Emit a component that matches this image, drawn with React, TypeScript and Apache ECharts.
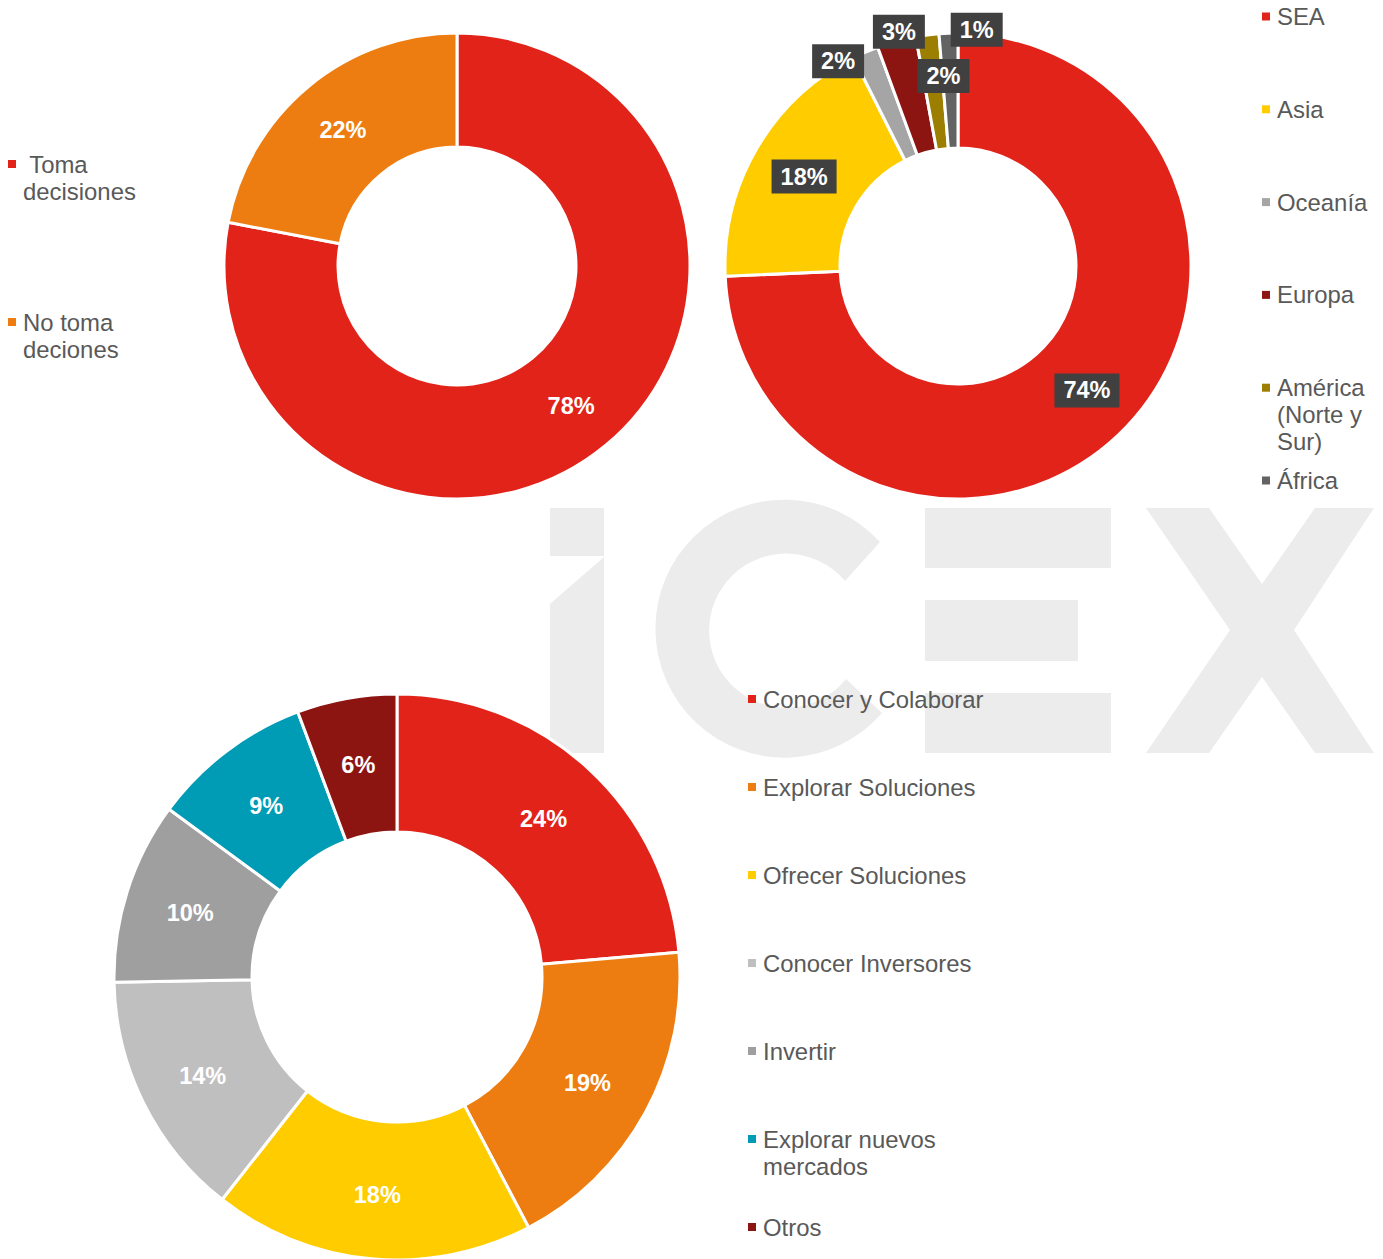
import React, { useEffect, useRef } from "react";
import * as echarts from "echarts";

// ---------- DATA ----------
const decisionCategories = ["Toma decisiones", "No toma deciones"];
const decisionValues = [78, 22];
const decisionLegendText = [" Toma\ndecisiones", "No toma\ndeciones"];
const decisionColors = ["#e2231a", "#ee7d11"];

const regionCategories = ["SEA", "Asia", "Oceanía", "Europa", "América (Norte y Sur)", "África"];
const regionValues = [74.3, 18.3, 1.8, 2.7, 1.6, 1.3];
const regionLegendText = ["SEA", "Asia", "Oceanía", "Europa", "América\n(Norte y\nSur)", "África"];
const regionColors = ["#e2231a", "#ffcc00", "#a5a5a5", "#8c1511", "#9c7f00", "#636363"];

const goalCategories = [
  "Conocer y Colaborar",
  "Explorar Soluciones",
  "Ofrecer Soluciones",
  "Conocer Inversores",
  "Invertir",
  "Explorar nuevos mercados",
  "Otros",
];
const goalValues = [23.6, 18.7, 18.3, 14.1, 10.4, 9.2, 5.7];
const goalLegendText = [
  "Conocer y Colaborar",
  "Explorar Soluciones",
  "Ofrecer Soluciones",
  "Conocer Inversores",
  "Invertir",
  "Explorar nuevos\nmercados",
  "Otros",
];
const goalColors = ["#e2231a", "#ee7d11", "#ffcc00", "#c0bfbf", "#a09fa0", "#009bb5", "#8c1511"];

// label displacement for the thin region slices (layout only)
const regionLabelShift: Record<number, [number, number]> = {
  2: [-49, -41],
  3: [-12, -62],
  4: [9, -13],
  5: [26, -58],
};

const FONT = '"Liberation Sans", Arial, sans-serif';
const LINE = 27;
const WATERMARK = "#ececec";

const cPath =
  "M880 542 A129 129 0 1 0 882 713 L846 679 A77 77 0 1 1 845 581 Z";
let registered = false;
function ensureShape() {
  if (registered) return;
  echarts.graphic.registerShape("icexC", echarts.graphic.extendPath(cPath, {}) as any);
  registered = true;
}

// one legend per entry so that every entry keeps the same pitch,
// with the marker aligned to the first line of the entry
function legendsFor(
  names: string[],
  texts: string[],
  left: number,
  firstY: number,
  step: number
) {
  return names.map((name, i) => {
    const n = texts[i].split("\n").length;
    const shown = "\n".repeat(n - 1) + texts[i];
    return {
      data: [name],
      orient: "vertical",
      left,
      top: firstY + i * step - ((2 * n - 1) * LINE) / 2,
      padding: 0,
      icon: "rect",
      itemWidth: 8,
      itemHeight: 8,
      itemStyle: { borderWidth: 0 },
      selectedMode: false,
      formatter: () => shown,
      textStyle: {
        color: "#595959",
        fontSize: 23.9,
        lineHeight: LINE,
        fontFamily: FONT,
        padding: [0, 0, 0, 2],
      },
    };
  });
}

function pieData(names: string[], values: number[], colors: string[]) {
  return names.map((name, i) => ({
    name,
    value: values[i],
    itemStyle: { color: colors[i] },
  }));
}

const baseLabel = {
  show: true,
  position: "inside",
  color: "#ffffff",
  fontWeight: "bold",
  fontSize: 23.5,
  fontFamily: FONT,
  formatter: (p: any) => Math.round(p.value) + "%",
};

const basePie = {
  type: "pie",
  startAngle: 90,
  clockwise: true,
  avoidLabelOverlap: false,
  z: 2,
  itemStyle: { borderColor: "#ffffff", borderWidth: 3 },
  labelLine: { show: false },
  emphasis: { disabled: true },
};

export default function App() {
  const ref = useRef<HTMLDivElement>(null);

  useEffect(() => {
    if (!ref.current) return;
    ensureShape();
    const chart = echarts.init(ref.current, undefined, { renderer: "svg" });
    chart.setOption({
      animation: false,
      backgroundColor: "#ffffff",
      graphic: [
        { type: "rect", z: 0, silent: true, shape: { x: 550, y: 508, width: 54, height: 48 }, style: { fill: WATERMARK } },
        { type: "polygon", z: 0, silent: true, shape: { points: [[550, 604], [604, 557], [604, 753], [550, 753]] }, style: { fill: WATERMARK } },
        { type: "icexC", z: 0, silent: true, style: { fill: WATERMARK } },
        { type: "rect", z: 0, silent: true, shape: { x: 925, y: 508, width: 186, height: 60 }, style: { fill: WATERMARK } },
        { type: "rect", z: 0, silent: true, shape: { x: 925, y: 600, width: 153, height: 61 }, style: { fill: WATERMARK } },
        { type: "rect", z: 0, silent: true, shape: { x: 925, y: 693, width: 186, height: 60 }, style: { fill: WATERMARK } },
        {
          type: "polygon",
          z: 0,
          silent: true,
          shape: {
            points: [
              [1146, 508], [1209, 508], [1262, 584], [1315, 508], [1374, 508], [1294, 630],
              [1374, 753], [1315, 753], [1262, 677], [1209, 753], [1146, 753], [1230, 630],
            ],
          },
          style: { fill: WATERMARK },
        },
      ],
      legend: [
        ...legendsFor(decisionCategories, decisionLegendText, 8, 164, 158),
        ...legendsFor(regionCategories, regionLegendText, 1262, 16.5, 92.8),
        ...legendsFor(goalCategories, goalLegendText, 748, 699, 88),
      ],
      series: [
        {
          ...basePie,
          name: "Decisión",
          center: [457, 266],
          radius: [119, 233],
          label: baseLabel,
          labelLayout: () => ({ dy: 2 }),
          data: pieData(decisionCategories, decisionValues, decisionColors),
        },
        {
          ...basePie,
          name: "Región",
          center: [958, 266],
          radius: [118, 233],
          label: {
            ...baseLabel,
            backgroundColor: "#404040",
            padding: [4, 9],
            lineHeight: 26,
          },
          labelLayout: (params: any) => {
            const s = regionLabelShift[params.dataIndex];
            return s ? { dx: s[0], dy: s[1] } : { dy: 1 };
          },
          data: pieData(regionCategories, regionValues, regionColors),
        },
        {
          ...basePie,
          name: "Objetivo",
          center: [397, 977],
          radius: [145, 283],
          label: baseLabel,
          labelLayout: () => ({ dy: 2 }),
          data: pieData(goalCategories, goalValues, goalColors),
        },
      ],
    });
    return () => chart.dispose();
  }, []);

  return (
    <div
      ref={ref}
      style={{ position: "absolute", left: 0, top: 0, width: 1383, height: 1259 }}
    />
  );
}
